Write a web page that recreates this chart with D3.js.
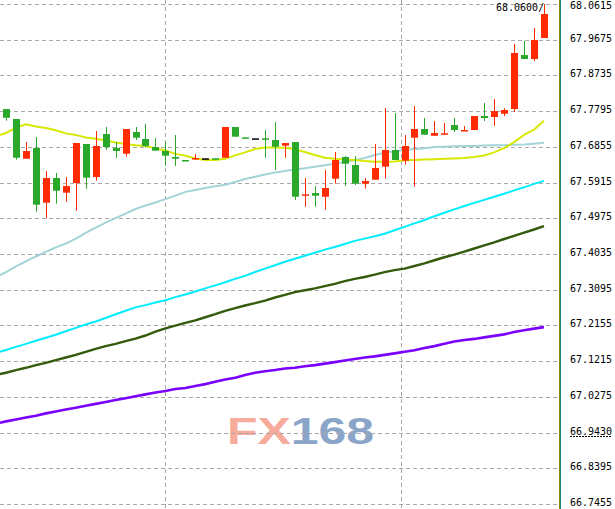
<!DOCTYPE html>
<html>
<head>
<meta charset="utf-8">
<script src="https://cdn.jsdelivr.net/npm/d3@7"></script>
<style>
  html, body { margin: 0; padding: 0; background: #fff; }
  svg { display: block; }
</style>
</head>
<body>
<div id="chart"></div>
<script>
// OHLC per bar (red = up, green = down)
const open = [67.7851, 67.7588, 67.6543, 67.6825, 67.5385, 67.6035, 67.5648, 67.5903, 67.6930, 67.6061,
  67.7193, 67.6825, 67.6675, 67.7246, 67.7062, 67.6851, 67.6746, 67.6588, 67.6509, 67.6548,
  67.6554, 67.6554, 67.6569, 67.7377, 67.7106, 67.7080, 67.7080, 67.7035, 67.6885, 67.6983,
  67.5601, 67.5640, 67.5543, 67.6017, 67.6588, 67.6377, 67.5885, 67.5990, 67.6333, 67.6772,
  67.6490, 67.7096, 67.7325, 67.7148, 67.7206, 67.7430, 67.7293, 67.7298, 67.7667, 67.7641,
  67.7727, 67.7851, 67.9272, 67.9167, 67.9720];
const high = [67.7851, 67.7588, 67.6983, 67.7114, 67.6219, 67.6167, 67.6061, 67.6956, 67.6930, 67.7272,
  67.7377, 67.6983, 67.7325, 67.7377, 67.7456, 67.7088, 67.6990, 67.7167, 67.6509, 67.6667,
  67.6554, 67.6554, 67.7377, 67.7377, 67.7106, 67.7080, 67.7298, 67.7509, 67.6956, 67.6983,
  67.6035, 67.5824, 67.6246, 67.6719, 67.6614, 67.6614, 67.6035, 67.6930, 67.7877, 67.7746,
  67.7167, 67.7930, 67.7614, 67.7535, 67.7483, 67.7614, 67.7404, 67.7667, 67.8009, 67.8114,
  67.7877, 67.9562, 67.9641, 67.9983, 68.0615];
const low = [67.7543, 67.6517, 67.6543, 67.5148, 67.4974, 67.5359, 67.5411, 67.5174, 67.5753, 67.5964,
  67.6780, 67.6561, 67.6596, 67.7035, 67.6843, 67.6754, 67.6359, 67.6351, 67.6501, 67.6509,
  67.6554, 67.6546, 67.6569, 67.7122, 67.7098, 67.7080, 67.6569, 67.6246, 67.6569, 67.5456,
  67.5280, 67.5280, 67.5201, 67.5885, 67.5832, 67.5851, 67.5753, 67.5990, 67.6017, 67.6509,
  67.6385, 67.5806, 67.7175, 67.7148, 67.7167, 67.7246, 67.7293, 67.7298, 67.7535, 67.7404,
  67.7667, 67.7772, 67.9167, 67.9114, 67.9720];
const close = [67.7622, 67.6569, 67.6746, 67.5332, 67.6035, 67.5701, 67.5824, 67.6956, 67.6043, 67.6877,
  67.6851, 67.6746, 67.7325, 67.7096, 67.6877, 67.6754, 67.6622, 67.6543, 67.6501, 67.6561,
  67.6554, 67.6546, 67.7377, 67.7122, 67.7098, 67.7080, 67.7075, 67.6859, 67.6956, 67.5543,
  67.5606, 67.5569, 67.5772, 67.6509, 67.6411, 67.5885, 67.5956, 67.6298, 67.6772, 67.6509,
  67.6877, 67.7325, 67.7175, 67.7219, 67.7212, 67.7298, 67.7298, 67.7667, 67.7614, 67.7798,
  67.7825, 67.9325, 67.9167, 67.9667, 68.0352];

// moving averages, one value per bar starting one bar before the first candle
const maStart = -1;
const maYellow = [67.713, 67.722, 67.736, 67.745, 67.739, 67.735, 67.729, 67.721, 67.717, 67.710,
  67.707, 67.702, 67.697, 67.693, 67.690, 67.688, 67.682, 67.676, 67.667, 67.662,
  67.655, 67.651, 67.651, 67.654, 67.663, 67.671, 67.680, 67.684, 67.684, 67.683,
  67.679, 67.672, 67.664, 67.657, 67.654, 67.652, 67.651, 67.648, 67.646, 67.646,
  67.647, 67.650, 67.651, 67.652, 67.653, 67.654, 67.655, 67.656, 67.659, 67.663,
  67.671, 67.682, 67.698, 67.717, 67.731, 67.754];
const maLightBlue = [67.343, 67.356, 67.371, 67.384, 67.397, 67.409, 67.421, 67.431, 67.444, 67.459,
  67.473, 67.486, 67.498, 67.510, 67.522, 67.531, 67.539, 67.548, 67.557, 67.567,
  67.572, 67.577, 67.582, 67.586, 67.593, 67.601, 67.607, 67.613, 67.618, 67.622,
  67.626, 67.629, 67.633, 67.637, 67.641, 67.646, 67.650, 67.656, 67.664, 67.670,
  67.674, 67.677, 67.680, 67.682, 67.685, 67.686, 67.687, 67.688, 67.688, 67.689,
  67.690, 67.690, 67.691, 67.692, 67.694, 67.696];
const maCyan = [67.143, 67.151, 67.159, 67.167, 67.175, 67.183, 67.191, 67.200, 67.209, 67.218,
  67.226, 67.235, 67.245, 67.254, 67.263, 67.269, 67.276, 67.282, 67.290, 67.297,
  67.305, 67.313, 67.321, 67.329, 67.338, 67.346, 67.356, 67.365, 67.374, 67.383,
  67.391, 67.399, 67.407, 67.415, 67.422, 67.430, 67.438, 67.444, 67.450, 67.457,
  67.466, 67.475, 67.484, 67.493, 67.503, 67.512, 67.521, 67.530, 67.538, 67.546,
  67.554, 67.562, 67.571, 67.579, 67.588, 67.596];
const maDarkGreen = [67.085, 67.091, 67.098, 67.104, 67.111, 67.117, 67.124, 67.131, 67.138, 67.146,
  67.154, 67.161, 67.167, 67.174, 67.181, 67.189, 67.199, 67.208, 67.215, 67.222,
  67.229, 67.237, 67.245, 67.254, 67.261, 67.268, 67.274, 67.281, 67.289, 67.296,
  67.303, 67.308, 67.313, 67.319, 67.325, 67.332, 67.338, 67.343, 67.349, 67.356,
  67.361, 67.365, 67.372, 67.379, 67.387, 67.395, 67.402, 67.410, 67.418, 67.426,
  67.434, 67.443, 67.451, 67.460, 67.468, 67.477];
const maPurple = [66.957, 66.963, 66.968, 66.973, 66.978, 66.984, 66.989, 66.994, 66.999, 67.004,
  67.009, 67.014, 67.019, 67.024, 67.029, 67.034, 67.039, 67.043, 67.048, 67.051,
  67.056, 67.061, 67.067, 67.073, 67.078, 67.085, 67.091, 67.095, 67.098, 67.102,
  67.104, 67.108, 67.111, 67.115, 67.119, 67.123, 67.127, 67.131, 67.134, 67.138,
  67.142, 67.146, 67.150, 67.156, 67.161, 67.167, 67.173, 67.177, 67.180, 67.184,
  67.188, 67.192, 67.198, 67.203, 67.207, 67.211];

// price axis
const tickValues = [68.0615, 67.9675, 67.8735, 67.7795, 67.6855, 67.5915, 67.4975, 67.4035,
  67.3095, 67.2155, 67.1215, 67.0275, 66.9335, 66.8395, 66.7455];
const tickLabels = ['68.0615', '67.9675', '67.8735', '67.7795', '67.6855', '67.5915', '67.4975', '67.4035',
  '67.3095', '67.2155', '67.1215', '67.0275', '66.9430', '66.8395', '66.7455'];
const timeGridBars = [16, 39.65];
const lastPriceLabel = '68.0600/';

const width = 615, height = 509;
const plotRight = 559;

const svg = d3.select('#chart').append('svg')
  .attr('width', width)
  .attr('height', height);

svg.append('defs').append('clipPath').attr('id', 'plot')
  .append('rect').attr('x', 0).attr('y', 0).attr('width', plotRight).attr('height', height);

const x = d3.scaleLinear().domain([0, 54]).range([6, 544]);
const y = d3.scaleLinear().domain([66.7455, 68.0615]).range([504, 4]);

const plot = svg.append('g').attr('clip-path', 'url(#plot)');

// watermark
const wm = plot.append('text')
  .attr('transform', 'translate(227,444) scale(1.35,1)')
  .style('font-family', '"Liberation Sans", Arial, sans-serif')
  .style('font-weight', 'bold')
  .style('font-size', '37px');
wm.append('tspan').attr('fill', '#f7ab9c').text('FX');
wm.append('tspan').attr('fill', '#8aa5c8').text('168');

// grid
plot.append('g').selectAll('line')
  .data(tickValues)
  .enter().append('line')
  .attr('x1', 0).attr('x2', plotRight)
  .attr('y1', d => Math.round(y(d)) + 0.5)
  .attr('y2', d => Math.round(y(d)) + 0.5)
  .attr('stroke', '#aaa6aa')
  .attr('stroke-dasharray', '4,3');

plot.append('g').selectAll('line')
  .data(timeGridBars)
  .enter().append('line')
  .attr('x1', d => Math.round(x(d)) + 0.5)
  .attr('x2', d => Math.round(x(d)) + 0.5)
  .attr('y1', 0).attr('y2', height)
  .attr('stroke', '#aaa6aa')
  .attr('stroke-dasharray', '4,3');

// moving averages
const maLine = d3.line()
  .x((d, i) => x(i + maStart))
  .y(d => y(d));

const maSeries = [
  { values: maPurple, color: '#7a00ff', w: 2.6 },
  { values: maDarkGreen, color: '#345a0c', w: 2.4 },
  { values: maCyan, color: '#00ecff', w: 2 },
  { values: maLightBlue, color: '#a2d4d8', w: 2 },
  { values: maYellow, color: '#d9e800', w: 2 }
];

plot.selectAll('path.ma')
  .data(maSeries)
  .enter().append('path')
  .attr('class', 'ma')
  .attr('fill', 'none')
  .attr('stroke', d => d.color)
  .attr('stroke-width', d => d.w)
  .attr('d', d => maLine(d.values));

// candles
const bars = d3.range(open.length);
const candleColor = i => close[i] > open[i] ? '#ff2a00' : (close[i] < open[i] ? '#2aa82a' : '#000');

const candles = plot.append('g').selectAll('g.candle')
  .data(bars)
  .enter().append('g')
  .attr('class', 'candle');

candles.append('line')
  .attr('x1', i => Math.round(x(i)) + 0.5)
  .attr('x2', i => Math.round(x(i)) + 0.5)
  .attr('y1', i => y(high[i]))
  .attr('y2', i => y(low[i]))
  .attr('stroke', candleColor)
  .attr('stroke-width', 1);

candles.append('rect')
  .attr('x', i => Math.round(x(i)) - 3)
  .attr('width', 7)
  .attr('y', i => y(Math.max(open[i], close[i])))
  .attr('height', i => Math.max(1.5, y(Math.min(open[i], close[i])) - y(Math.max(open[i], close[i]))))
  .attr('fill', candleColor);

// last price label
plot.append('text')
  .attr('x', 496)
  .attr('y', 8)
  .attr('dominant-baseline', 'middle')
  .attr('fill', '#000')
  .style('font-family', '"DejaVu Sans Mono", monospace')
  .style('font-size', '10px')
  .text(lastPriceLabel);

// right price scale
svg.append('line')
  .attr('x1', plotRight + 0.5).attr('x2', plotRight + 0.5)
  .attr('y1', 0).attr('y2', height)
  .attr('stroke', '#8c8a00');
svg.append('line')
  .attr('x1', plotRight + 1.5).attr('x2', plotRight + 1.5)
  .attr('y1', 0).attr('y2', height)
  .attr('stroke', '#1a8a8a');

svg.append('g').selectAll('text')
  .data(tickValues)
  .enter().append('text')
  .attr('x', 570)
  .attr('y', d => Math.max(6, y(d) - 1))
  .attr('dominant-baseline', 'middle')
  .attr('fill', '#000')
  .style('font-family', '"DejaVu Sans Mono", monospace')
  .style('font-size', '10px')
  .text((d, i) => tickLabels[i]);

// dotted underline under the marked level label
svg.append('line')
  .attr('x1', 570).attr('x2', 612)
  .attr('y1', Math.round(y(tickValues[12])) + 3.5)
  .attr('y2', Math.round(y(tickValues[12])) + 3.5)
  .attr('stroke', '#000')
  .attr('stroke-dasharray', '2,1');
</script>
</body>
</html>
